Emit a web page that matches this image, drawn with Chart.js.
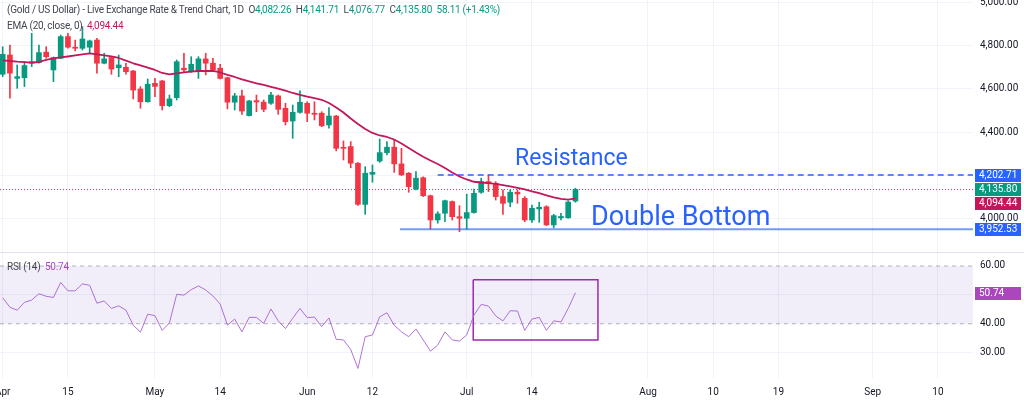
<!DOCTYPE html>
<html>
<head>
<meta charset="utf-8">
<script src="https://cdn.jsdelivr.net/npm/chart.js@4.4.1/dist/chart.umd.min.js"></script>
<style>
  html, body { margin:0; padding:0; background:#fff; }
  #wrap { position:relative; width:1024px; height:404px; overflow:hidden; font-family:Roboto, "Liberation Sans", sans-serif; }
  #priceChart { position:absolute; left:0; top:0; }
  #rsiChart { position:absolute; left:0; top:253px; }
  .sep { position:absolute; left:0; top:252px; width:1024px; height:1px; background:#e0e3eb; }
  .lg { position:absolute; left:7px; font-size:10px; letter-spacing:-0.25px; color:#434651; white-space:nowrap; line-height:12px; }
  .lg .up { color:#089981; }
  .lg .ema { color:#c2185b; }
  .lg .rsi { color:#ab47bc; }
  .note { position:absolute; font-size:23px; color:#2962ff; white-space:nowrap; line-height:26px; }
</style>
</head>
<body>
<div id="wrap">
  <canvas id="priceChart" width="1024" height="252"></canvas>
  <div class="sep"></div>
  <canvas id="rsiChart" width="1024" height="151"></canvas>

  <div class="lg" style="top:4px">(Gold / US Dollar) - Live Exchange Rate &amp; Trend Chart, 1D&nbsp;&nbsp;O<span class="up">4,082.26</span>&nbsp;&nbsp;H<span class="up">4,141.71</span>&nbsp;&nbsp;L<span class="up">4,076.77</span>&nbsp;&nbsp;C<span class="up">4,135.80</span>&nbsp;&nbsp;<span class="up">58.11 (+1.43%)</span></div>
  <div class="lg" style="top:20px">EMA (20, close, 0)&nbsp;&nbsp;<span class="ema">4,094.44</span></div>
  <div class="lg" style="top:261px">RSI (14)&nbsp;&nbsp;<span class="rsi">50.74</span></div>

  <div class="note" style="left:515px; top:145px">Resistance</div>
  <div class="note" style="left:591px; top:201px; font-size:27px; line-height:30px">Double Bottom</div>
</div>

<script>
// daily candles, Apr 1 -> Jul 22 (index = trading day)
const opens  = [4668,4757,4649,4652,4719,4722,4770,4688,4742,4842,4793,4788,4793,4826,4719,4745,4698,4700,4683,4600,
                4541,4626,4637,4523,4560,4696,4680,4680,4739,4719,4696,4652,4539,4568,4477,4546,4539,4534,4568,4511,
                4452,4492,4534,4488,4488,4434,4475,4329,4334,4257,4067,4206,4267,4306,4331,4254,4211,4138,4190,4107,
                3995,4026,4080,4010,4003,4029,4123,4172,4164,4103,4077,4123,4095,3995,4046,4056,3972,4005,4005,4082.26];
const highs  = [4795,4803,4711,4726,4857,4803,4795,4748,4849,4857,4826,4888,4826,4834,4765,4749,4757,4719,4686,4611,
                4646,4649,4640,4572,4734,4765,4749,4749,4765,4742,4714,4655,4580,4595,4547,4572,4549,4585,4572,4534,
                4526,4591,4541,4541,4495,4514,4478,4360,4357,4260,4241,4249,4369,4357,4364,4326,4214,4218,4194,4110,
                4033,4087,4083,4061,4114,4138,4188,4203,4172,4134,4134,4134,4103,4064,4077,4061,4021,4026,4083,4141.71];
const lows   = [4657,4557,4603,4611,4703,4719,4742,4634,4740,4788,4776,4780,4765,4673,4716,4668,4657,4668,4554,4511,
                4539,4564,4503,4518,4549,4680,4677,4649,4665,4680,4646,4508,4503,4483,4475,4495,4495,4529,4483,4434,
                4372,4488,4449,4457,4426,4419,4314,4272,4236,4062,4021,4169,4261,4295,4215,4200,4123,4134,4103,3953,
                3980,3987,3995,3941,3953,4026,4118,4126,4087,4021,4056,4072,3987,3984,3984,3969,3959,3995,4003,4076.77];
const closes = [4760,4673,4657,4708,4726,4768,4749,4745,4842,4793,4788,4831,4822,4719,4739,4692,4711,4680,4595,4541,
                4622,4612,4523,4554,4726,4688,4714,4739,4719,4688,4649,4539,4568,4498,4545,4540,4506,4572,4506,4449,
                4492,4539,4488,4483,4430,4475,4326,4326,4257,4067,4211,4215,4306,4331,4254,4203,4149,4188,4107,3995,
                4023,4084,4010,4003,4029,4118,4172,4164,4103,4072,4123,4115,3995,4049,4054,3972,4015,4011,4077.69,4135.80];
const ema20  = [4732.6,4729.3,4726.1,4723.8,4722.0,4724.7,4734.0,4740.9,4745.5,4750.1,4754.8,4759.8,4764.4,4759.4,4754.8,4750.1,4743.2,4731.2,4718.7,4708.6,
                4698.9,4687.8,4673.9,4667.0,4671.6,4676.2,4680.4,4683.1,4683.1,4683.1,4676.2,4664.7,4655.4,4643.9,4634.7,4626.3,4618.5,4610.2,4601.4,4592.2,
                4581.5,4572.3,4564.4,4557.5,4550.1,4535.3,4514.6,4491.5,4463.8,4438.3,4415.2,4396.8,4385.2,4378.3,4366.7,4348.3,4327.5,4306.7,4287.3,4269.8,
                4253.6,4235.1,4214.3,4195.9,4182.0,4171.4,4168.1,4164.9,4161.2,4155.7,4150.6,4143.7,4136.3,4127.5,4118.7,4109.0,4099.8,4092.0,4089.0,4094.44];
const rsi14  = [49.0,45.7,44.7,47.4,48.2,50.4,49.5,49.1,54.3,51.4,51.4,53.8,53.3,47.1,47.9,45.3,46.2,44.7,39.5,37.1,
                43.3,42.8,37.7,40.3,50.2,49.9,51.8,53.1,51.7,49.6,46.8,39.5,41.6,37.2,42.2,42.2,40.1,45.1,41.0,38.3,
                41.9,45.3,42.1,42.3,39.0,42.0,34.6,34.4,31.1,24.5,35.5,36.1,42.4,43.8,39.5,37.2,35.5,38.2,34.4,30.5,
                32.6,37.2,34.4,34.0,36.1,43.0,46.7,46.1,42.7,41.0,44.5,44.4,37.7,41.6,42.2,37.7,41.0,40.6,45.3,50.74];

// time axis: bar index of each label (future part counted in calendar days)
const tickIdx  = [0, 9, 21, 30, 42, 51, 64, 73, 89, 98, 107, 120, 129];
const tickText = ['Apr','15','May','14','Jun','12','Jul','14','Aug','10','19','Sep','10'];
const priceTicks = [4000, 4200, 4400, 4600, 4800, 5000];
const rsiTicks = [30, 40, 50, 60];

// drawn levels
const resistance = 4202.71, support = 3952.53, lastClose = 4135.80, lastEma = 4094.44;
const resistanceFrom = 60, supportFrom = 54.8;
const rsiBandHi = 60, rsiBandLo = 40, rsiLast = 50.74;
const boxIdx = [64.9, 82.1];
const boxRsi = [34.35, 55.25];

const UP = '#089981', DOWN = '#f23645', EMA_C = '#c2185b', BLUE = '#2962ff', RSI_C = '#b072d8';
const GRID = '#f0f3fa', TXT = '#131722';
const X_MIN = -0.37, X_MAX = 133.83;
const FONT = { family: 'Roboto, "Liberation Sans", sans-serif', size: 10 };

const fmt = v => v.toLocaleString('en-US', { minimumFractionDigits: 2, maximumFractionDigits: 2 });
const candleColor = closes.map((c, i) => c >= opens[i] ? UP : DOWN);

function xAxis(showLabels){
  return {
    type: 'linear', min: X_MIN, max: X_MAX, offset: false,
    afterBuildTicks: s => { s.ticks = tickIdx.map(v => ({ value: v })); },
    ticks: { display: showLabels, autoSkip: false, maxRotation: 0, padding: 8, color: TXT, font: FONT,
             callback: (v, i) => tickText[i] },
    grid: { color: GRID, drawTicks: false, offset: false },
    border: { display: false },
    afterFit: s => { s.height = showLabels ? 26 : 0; s.paddingLeft = 0; s.paddingRight = 0; }
  };
}

// value tags on the right axis
function tagPlugin(items){
  return {
    id: 'tags',
    afterDraw(chart){
      const { ctx, chartArea, scales: { y } } = chart;
      ctx.save();
      ctx.font = '10px Roboto, "Liberation Sans", sans-serif';
      ctx.textBaseline = 'middle';
      items.forEach(t => {
        const yy = Math.round(y.getPixelForValue(t.v) + (t.shift || 0));
        ctx.fillStyle = t.bg;
        ctx.fillRect(chartArea.right + 2, yy - 6, 46, 13);
        ctx.fillStyle = '#fff';
        ctx.fillText(fmt(t.v), chartArea.right + 6, yy + 0.5);
      });
      ctx.restore();
    }
  };
}

const common = {
  responsive: false, animation: false, events: [],
  layout: { padding: 0 },
  plugins: { legend: { display: false }, tooltip: { enabled: false } }
};

new Chart(document.getElementById('priceChart'), {
  type: 'bar',
  plugins: [tagPlugin([
    { v: resistance, bg: BLUE },
    { v: lastClose, bg: UP },
    { v: lastEma, bg: EMA_C, shift: 4.5 },
    { v: support, bg: BLUE }
  ])],
  data: { datasets: [
    { type: 'line', data: ema20.map((v, i) => ({ x: i, y: v })), borderColor: EMA_C, borderWidth: 1.8,
      pointRadius: 0, borderJoinStyle: 'round', order: 0 },
    { type: 'line', data: [{ x: X_MIN, y: lastClose }, { x: X_MAX, y: lastClose }], borderColor: UP,
      borderWidth: 1, borderDash: [1, 2], pointRadius: 0, order: 3 },
    { type: 'line', data: [{ x: resistanceFrom, y: resistance }, { x: X_MAX, y: resistance }], borderColor: BLUE,
      borderWidth: 1.5, borderDash: [6, 4], pointRadius: 0, order: 0 },
    { type: 'line', data: [{ x: supportFrom, y: support }, { x: X_MAX, y: support }], borderColor: 'rgba(41,98,255,0.65)',
      borderWidth: 2, pointRadius: 0, order: 0 },
    { data: highs.map((h, i) => ({ x: i, y: [lows[i], h] })), backgroundColor: candleColor,
      barThickness: 1, grouped: false, order: 2 },
    { data: opens.map((o, i) => ({ x: i, y: [o, closes[i]] })), backgroundColor: candleColor,
      barThickness: 5, minBarLength: 1, grouped: false, order: 1 }
  ]},
  options: { ...common,
    scales: {
      x: xAxis(false),
      y: {
        position: 'right', min: 3847, max: 5011,
        afterBuildTicks: s => { s.ticks = priceTicks.map(v => ({ value: v })); },
        ticks: { padding: 7, color: TXT, font: FONT, callback: v => fmt(v) },
        grid: { color: GRID, drawTicks: false },
        border: { display: false },
        afterFit: s => { s.width = 51; s.paddingTop = 0; s.paddingBottom = 0; }
      }
    }
  }
});

new Chart(document.getElementById('rsiChart'), {
  type: 'line',
  plugins: [tagPlugin([ { v: rsiLast, bg: '#ab47bc' } ])],
  data: { datasets: [
    { data: [{ x: X_MIN, y: rsiBandHi }, { x: X_MAX, y: rsiBandHi }], borderColor: 'rgba(120,123,134,0.55)',
      borderWidth: 1, borderDash: [4, 4], pointRadius: 0, fill: '+1', backgroundColor: 'rgba(126,87,194,0.1)' },
    { data: [{ x: X_MIN, y: rsiBandLo }, { x: X_MAX, y: rsiBandLo }], borderColor: 'rgba(120,123,134,0.55)',
      borderWidth: 1, borderDash: [4, 4], pointRadius: 0 },
    { data: rsi14.map((v, i) => ({ x: i, y: v })), borderColor: RSI_C, borderWidth: 1, pointRadius: 0 },
    { data: [{ x: boxIdx[0], y: boxRsi[1] }, { x: boxIdx[1], y: boxRsi[1] }, { x: boxIdx[1], y: boxRsi[0] },
             { x: boxIdx[0], y: boxRsi[0] }, { x: boxIdx[0], y: boxRsi[1] }],
      borderColor: '#9c27b0', borderWidth: 1.5, pointRadius: 0 }
  ]},
  options: { ...common,
    scales: {
      x: xAxis(true),
      y: {
        position: 'right', min: 21.2, max: 64.5,
        afterBuildTicks: s => { s.ticks = rsiTicks.map(v => ({ value: v })); },
        ticks: { padding: 7, color: TXT, font: FONT, callback: v => fmt(v) },
        grid: { color: c => (c.tick && (c.tick.value === 40 || c.tick.value === 60)) ? 'rgba(0,0,0,0)' : GRID, drawTicks: false },
        border: { display: false },
        afterFit: s => { s.width = 51; s.paddingTop = 0; s.paddingBottom = 0; }
      }
    }
  }
});
</script>
</body>
</html>
